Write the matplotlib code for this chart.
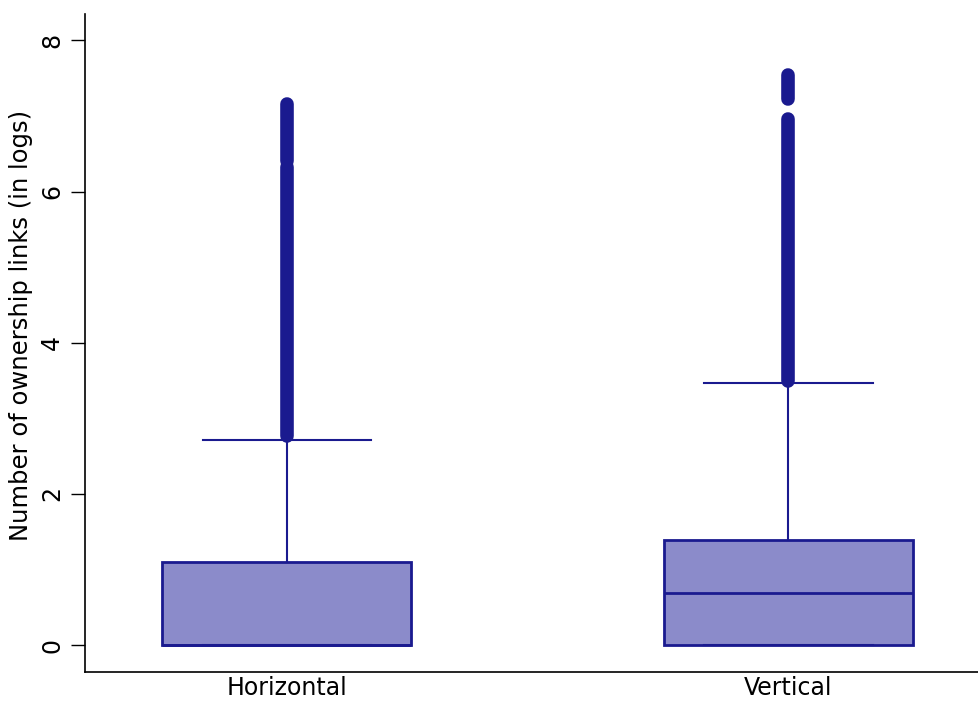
import matplotlib
matplotlib.use("Agg")
import matplotlib.pyplot as plt

categories = ["Horizontal", "Vertical"]
q1 = [0.0, 0.0]
median = [0.0, 0.693]
q3 = [1.099, 1.386]
whisker_low = [0.0, 0.0]
whisker_high = [2.708, 3.466]
# outlier clusters (continuous runs of outlying values) per category
outlier_runs = [
    [(2.77, 6.33), (6.40, 7.16)],
    [(3.50, 6.96), (7.23, 7.54)],
]
yticks = [0, 2, 4, 6, 8]
ylabel = "Number of ownership links (in logs)"

edge = "#1a1a8f"
fill = "#8b8bca"

fig = plt.figure(figsize=(9.79, 7.02), dpi=100)
ax = fig.add_axes([85/979, 30/702, 1 - 85/979, (672-14)/702])

positions = [1, 2]
stats = []
for i, c in enumerate(categories):
    stats.append(dict(label=c, q1=q1[i], med=median[i], q3=q3[i],
                      whislo=whisker_low[i], whishi=whisker_high[i], fliers=[]))
ax.bxp(stats, positions=positions, widths=0.497, patch_artist=True,
       showfliers=False,
       boxprops=dict(facecolor=fill, edgecolor=edge, linewidth=2),
       medianprops=dict(color=edge, linewidth=2),
       whiskerprops=dict(color=edge, linewidth=1.5),
       capprops=dict(color=edge, linewidth=1.5),
       capwidths=[0.337, 0.337])

for pos, runs in zip(positions, outlier_runs):
    for lo, hi in runs:
        ax.plot([pos, pos], [lo, hi], color=edge, linewidth=9.8,
                solid_capstyle="round", zorder=3)

ax.set_xlim(0.597, 2.381)
ax.set_ylim(-0.357, 8.35)
ax.set_yticks(yticks)
ax.set_yticklabels([str(t) for t in yticks], rotation=90, va="center", fontsize=17)
ax.set_xticks(positions)
ax.set_xticklabels(categories, fontsize=17)
ax.tick_params(axis="x", length=0, pad=3)
ax.tick_params(axis="y", length=10, width=1, pad=5)
ax.set_ylabel(ylabel, fontsize=17.5)
ax.yaxis.set_label_coords(-0.058, 0.526)
for s in ["top", "right"]:
    ax.spines[s].set_visible(False)
for s in ["left", "bottom"]:
    ax.spines[s].set_linewidth(1.2)

fig.savefig("out.png", dpi=100)
